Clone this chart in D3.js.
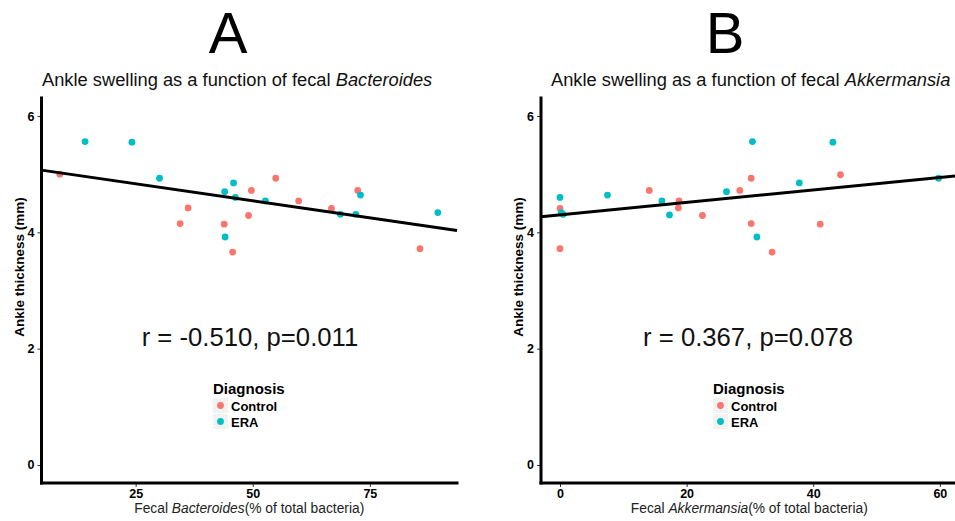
<!DOCTYPE html>
<html>
<head>
<meta charset="utf-8">
<script src="https://cdn.jsdelivr.net/npm/d3@7"></script>
<style>
  body { margin: 0; background: #fff; }
  svg { display: block; font-family: "Liberation Sans", Arial, sans-serif; }
</style>
</head>
<body>
<div id="chart"></div>
<script>
const groups = ['Control', 'ERA'];
const groupColors = ['#F8766D', '#00BFC4'];
const yTicks = [0, 2, 4, 6];

// panel A: fecal Bacteroides
const bactTicks = [25, 50, 75];
const bactControlX = [8.8, 36.2, 34.5, 43.9, 45.7, 49.7, 49.1, 54.9, 59.8, 66.8, 72.4, 85.7];
const bactControlY = [5.00, 4.42, 4.15, 4.14, 3.66, 4.72, 4.29, 4.93, 4.54, 4.41, 4.72, 3.72];
const bactEraX = [14.2, 24.2, 30.1, 44.0, 45.9, 46.3, 44.1, 52.7, 68.7, 72.0, 73.0, 89.5];
const bactEraY = [5.56, 5.55, 4.93, 4.70, 4.85, 4.60, 3.92, 4.54, 4.31, 4.31, 4.64, 4.34];
const bactFitX = [4.9, 93.6];
const bactFitY = [5.07, 4.03];

// panel B: fecal Akkermansia
const akkTicks = [0, 20, 40, 60];
const akkControlX = [0.0, 0.0, 14.1, 18.8, 18.7, 22.5, 28.4, 30.2, 30.2, 33.5, 41.1, 44.3];
const akkControlY = [4.41, 3.72, 4.72, 4.54, 4.42, 4.29, 4.72, 4.93, 4.15, 3.66, 4.14, 4.99];
const akkEraX = [0.0, 0.2, 0.5, 7.5, 16.1, 17.3, 26.3, 30.4, 31.1, 37.8, 43.1, 59.8];
const akkEraY = [4.60, 4.34, 4.31, 4.64, 4.54, 4.30, 4.70, 5.56, 3.92, 4.85, 5.55, 4.93];
const akkFitX = [-3.0, 62.8];
const akkFitY = [4.27, 4.975];

const svgWidth = 955;
const svgHeight = 521;

const svg = d3.select('#chart')
    .append('svg')
    .attr('width', svgWidth)
    .attr('height', svgHeight);

function drawPanel(p) {
    const xScale = d3.scaleLinear().domain(p.xDomain).range([p.left, p.right]);
    const yScale = d3.scaleLinear().domain([-0.31, 6.31]).range([483, 98]);
    const g = svg.append('g');

    // big panel letter
    g.append('text')
        .attr('x', p.letterX)
        .attr('y', 53)
        .attr('text-anchor', 'middle')
        .style('font-size', '58px')
        .text(p.letter);

    // title
    const title = g.append('text')
        .attr('x', p.titleX)
        .attr('y', 86)
        .style('font-size', '18.3px')
        .attr('fill', '#111');
    title.append('tspan').text('Ankle swelling as a function of fecal ');
    title.append('tspan').style('font-style', 'italic').text(p.genus);

    // axes
    const yAxis = g.append('g')
        .attr('transform', `translate(${p.left},0)`)
        .call(d3.axisLeft(yScale).tickValues(yTicks).tickFormat(d3.format('d')).tickSize(4).tickPadding(3));
    const xAxis = g.append('g')
        .attr('transform', 'translate(0,483)')
        .call(d3.axisBottom(xScale).tickValues(p.xTicks).tickFormat(d3.format('d')).tickSize(4).tickPadding(2));
    [yAxis, xAxis].forEach(a => {
        a.select('.domain').remove();
        a.selectAll('.tick line').attr('stroke', '#333');
        a.selectAll('.tick text')
            .attr('fill', '#000')
            .style('font-size', '12.5px')
            .style('font-weight', 'bold')
            .style('font-family', '"Liberation Sans", Arial, sans-serif');
    });

    g.append('line')
        .attr('x1', p.left).attr('x2', p.left)
        .attr('y1', 98).attr('y2', 483)
        .attr('stroke', '#000').attr('stroke-width', 3).attr('stroke-linecap', 'square');
    g.append('line')
        .attr('x1', p.left).attr('x2', p.right)
        .attr('y1', 483).attr('y2', 483)
        .attr('stroke', '#000').attr('stroke-width', 3).attr('stroke-linecap', 'square');

    // axis titles
    g.append('text')
        .attr('transform', `translate(${p.left - 18},267) rotate(-90)`)
        .attr('text-anchor', 'middle')
        .style('font-size', '13.5px')
        .style('font-weight', 'bold')
        .text('Ankle thickness (mm)');

    const xt = g.append('text')
        .attr('x', (p.left + p.right) / 2)
        .attr('y', 513)
        .attr('text-anchor', 'middle')
        .attr('fill', '#222')
        .style('font-size', '13.8px');
    xt.append('tspan').text('Fecal ');
    xt.append('tspan').style('font-style', 'italic').text(p.genus);
    xt.append('tspan').text('(% of total bacteria)');

    // points
    const pts = [];
    p.xs.forEach((xs, gi) => xs.forEach((x, i) => pts.push({ x: x, y: p.ys[gi][i], group: gi })));
    g.selectAll('.dot')
        .data(pts)
        .enter()
        .append('circle')
        .attr('class', 'dot')
        .attr('cx', d => xScale(d.x))
        .attr('cy', d => yScale(d.y))
        .attr('r', 3.4)
        .attr('fill', d => groupColors[d.group]);

    // fitted line
    const line = d3.line()
        .x(d => xScale(d[0]))
        .y(d => yScale(d[1]));
    g.append('path')
        .datum(p.fitX.map((x, i) => [x, p.fitY[i]]))
        .attr('d', line)
        .attr('fill', 'none')
        .attr('stroke', '#000')
        .attr('stroke-width', 3);

    // r / p annotation
    g.append('text')
        .attr('x', xScale(p.statX))
        .attr('y', 346)
        .attr('text-anchor', 'middle')
        .attr('fill', '#111')
        .style('font-size', '25.7px')
        .text(p.stat);

    // legend
    const lx = p.legendX;
    g.append('text')
        .attr('x', lx)
        .attr('y', 394)
        .style('font-size', '15px')
        .style('font-weight', 'bold')
        .text('Diagnosis');
    groups.forEach((name, i) => {
        const ky = 398 + i * 16;
        g.append('rect')
            .attr('x', lx).attr('y', ky)
            .attr('width', 15).attr('height', 15)
            .attr('fill', '#f2f2f2');
        g.append('circle')
            .attr('cx', lx + 7.5).attr('cy', ky + 7.5)
            .attr('r', 3.4)
            .attr('fill', groupColors[i]);
        g.append('text')
            .attr('x', lx + 18)
            .attr('y', ky + 12.5)
            .style('font-size', '13px')
            .style('font-weight', 'bold')
            .text(name);
    });
}

drawPanel({
    letter: 'A', letterX: 228,
    genus: 'Bacteroides', titleX: 42,
    left: 41.5, right: 457, xDomain: [4.9, 93.6], xTicks: bactTicks,
    xs: [bactControlX, bactEraX], ys: [bactControlY, bactEraY],
    fitX: bactFitX, fitY: bactFitY,
    stat: 'r = -0.510, p=0.011', statX: 49.4,
    legendX: 213
});

drawPanel({
    letter: 'B', letterX: 725,
    genus: 'Akkermansia', titleX: 551,
    left: 541, right: 957.6, xDomain: [-3.0, 62.8], xTicks: akkTicks,
    xs: [akkControlX, akkEraX], ys: [akkControlY, akkEraY],
    fitX: akkFitX, fitY: akkFitY,
    stat: 'r = 0.367, p=0.078', statX: 29.7,
    legendX: 713
});
</script>
</body>
</html>
